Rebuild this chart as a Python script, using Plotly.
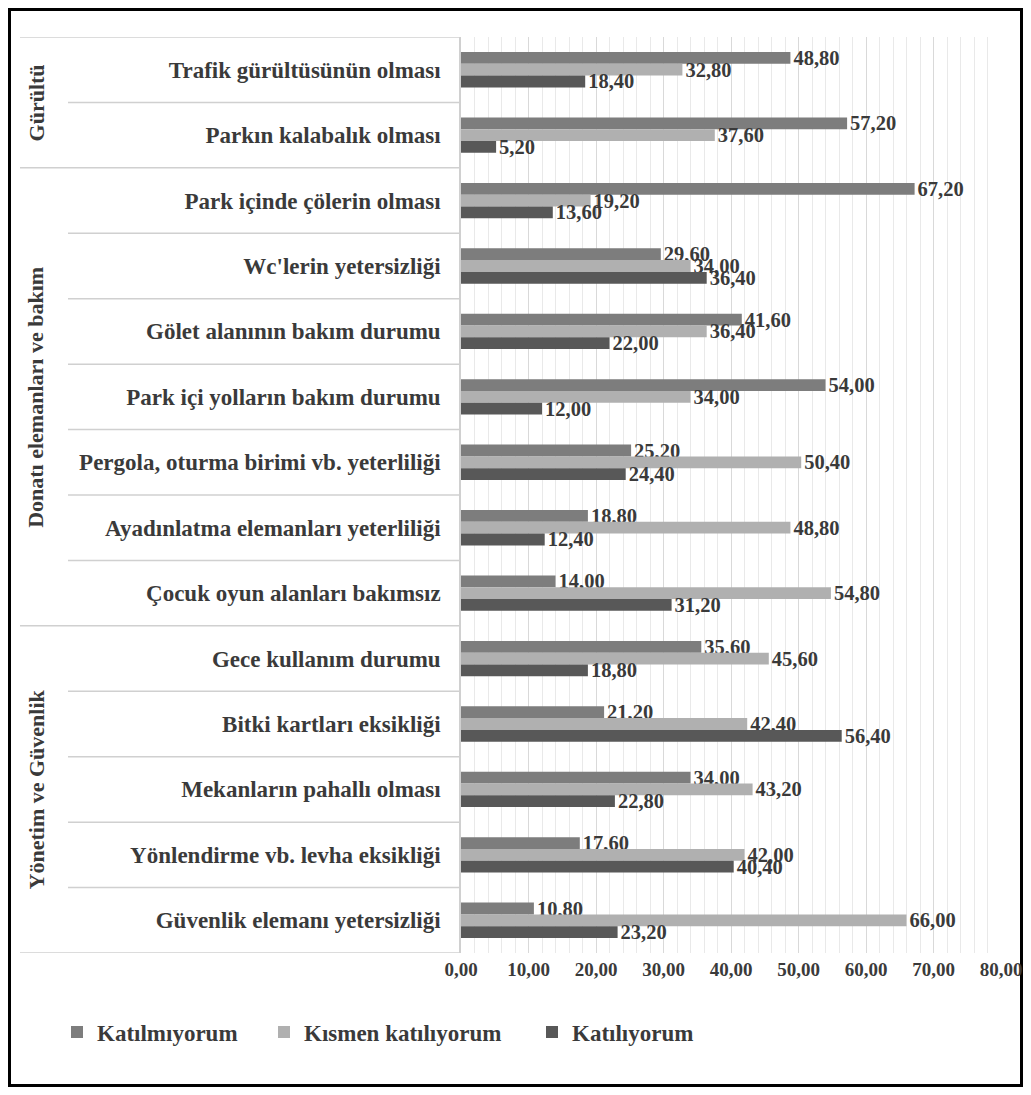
import plotly.graph_objects as go

categories = [
    "Trafik gürültüsünün olması",
    "Parkın kalabalık olması",
    "Park içinde çölerin olması",
    "Wc'lerin yetersizliği",
    "Gölet alanının bakım durumu",
    "Park içi yolların bakım durumu",
    "Pergola, oturma birimi vb. yeterliliği",
    "Ayadınlatma elemanları yeterliliği",
    "Çocuk oyun alanları bakımsız",
    "Gece kullanım durumu",
    "Bitki kartları eksikliği",
    "Mekanların pahallı olması",
    "Yönlendirme vb. levha eksikliği",
    "Güvenlik elemanı yetersizliği",
]
katilmiyorum = [48.80, 57.20, 67.20, 29.60, 41.60, 54.00, 25.20, 18.80, 14.00, 35.60, 21.20, 34.00, 17.60, 10.80]
kismen = [32.80, 37.60, 19.20, 34.00, 36.40, 34.00, 50.40, 48.80, 54.80, 45.60, 42.40, 43.20, 42.00, 66.00]
katiliyorum = [18.40, 5.20, 13.60, 36.40, 22.00, 12.00, 24.40, 12.40, 31.20, 18.80, 56.40, 22.80, 40.40, 23.20]
series_names = ["Katılmıyorum", "Kısmen katılıyorum", "Katılıyorum"]
groups = ["Gürültü", "Donatı elemanları ve bakım", "Yönetim ve Güvenlik"]
group_sizes = [2, 7, 5]
tick_values = [0, 10, 20, 30, 40, 50, 60, 70, 80]

colors = ["#7d7d7d", "#b0b0b0", "#585858"]
FONT = "Liberation Serif, Times New Roman, DejaVu Serif, serif"
TXT = "#3a3a3a"

def fmt(v):
    return f"{v:.2f}".replace(".", ",")

OFF = 8  # page body margin
W, H = 1031 - 2 * OFF, 1095 - 2 * OFF
L, T = 461 - OFF, 37 - OFF
pw, ph = 540, 916
R = W - L - pw
B = H - T - ph

def px(x):
    return (x - OFF - L) / pw

def py(y):
    return (H - B - (y - OFF)) / ph

legend_ids = ["legend", "legend2", "legend3"]
legend_text_x = [97, 304, 572]

fig = go.Figure()
for name, vals, col, lid in zip(series_names, [katilmiyorum, kismen, katiliyorum], colors, legend_ids):
    fig.add_trace(go.Bar(
        y=categories, x=vals, name=name, orientation="h",
        marker=dict(color=col, line=dict(width=0)),
        text=[fmt(v) for v in vals], textposition="outside",
        textfont=dict(family=FONT, size=20.5, color=TXT, weight="bold"),
        cliponaxis=False, constraintext="none", legend=lid,
    ))

shapes = []
n = len(categories)
boundaries = {0}
acc = 0
for s in group_sizes:
    acc += s
    boundaries.add(acc)
for i in range(n + 1):
    x0 = px(20) if i in boundaries else px(68)
    shapes.append(dict(type="line", xref="paper", yref="y", x0=x0, x1=0,
                       y0=i - 0.5, y1=i - 0.5, line=dict(color="#d0d0d0", width=1.5)))
shapes.append(dict(type="rect", xref="paper", yref="paper",
                   x0=px(OFF + 1.5), x1=px(OFF + W - 1.5), y0=py(OFF + H - 1.5), y1=py(OFF + 1.5),
                   line=dict(color="black", width=3), layer="below"))

annotations = []
acc = 0
for g, s in zip(groups, group_sizes):
    mid = acc + (s - 1) / 2
    acc += s
    annotations.append(dict(text=f"<b>{g}</b>", xref="paper", yref="y", x=px(36), y=mid,
                            xanchor="center", yanchor="middle",
                            textangle=-90, showarrow=False,
                            font=dict(family=FONT, size=22, color=TXT)))

legend_common = dict(orientation="h", xanchor="left", yanchor="middle",
                     font=dict(family=FONT, size=23, color=TXT, weight="bold"),
                     itemwidth=30, bgcolor="rgba(0,0,0,0)")
legends = {}
for lid, tx in zip(legend_ids, legend_text_x):
    legends[lid] = dict(legend_common, x=px(tx - 40), y=py(1032))

fig.update_layout(
    width=W, height=H,
    margin=dict(l=L, r=R, t=T, b=B, autoexpand=False),
    paper_bgcolor="white", plot_bgcolor="white",
    barmode="group", bargap=0.46, bargroupgap=0,
    shapes=shapes, annotations=annotations,
    showlegend=True,
    xaxis=dict(range=[0, 80], tickvals=tick_values, ticktext=[fmt(v) for v in tick_values],
               showgrid=True, gridcolor="#d9d9d9", gridwidth=1,
               minor=dict(dtick=2, showgrid=True, gridcolor="#e9e9e9", gridwidth=1),
               zeroline=False, showline=False, ticks="", automargin=False,
               tickfont=dict(family=FONT, size=19, color=TXT, weight="bold"),
               ticklabelstandoff=3),
    yaxis=dict(categoryorder="array", categoryarray=categories,
               range=[n - 0.5, -0.5], showgrid=False, zeroline=False, automargin=False,
               showline=True, linecolor="#d0d0d0", linewidth=1.5, ticks="",
               tickfont=dict(family=FONT, size=23, color=TXT, weight="bold"),
               ticklabelstandoff=14),
    **legends,
)

fig.write_html("out.html")
